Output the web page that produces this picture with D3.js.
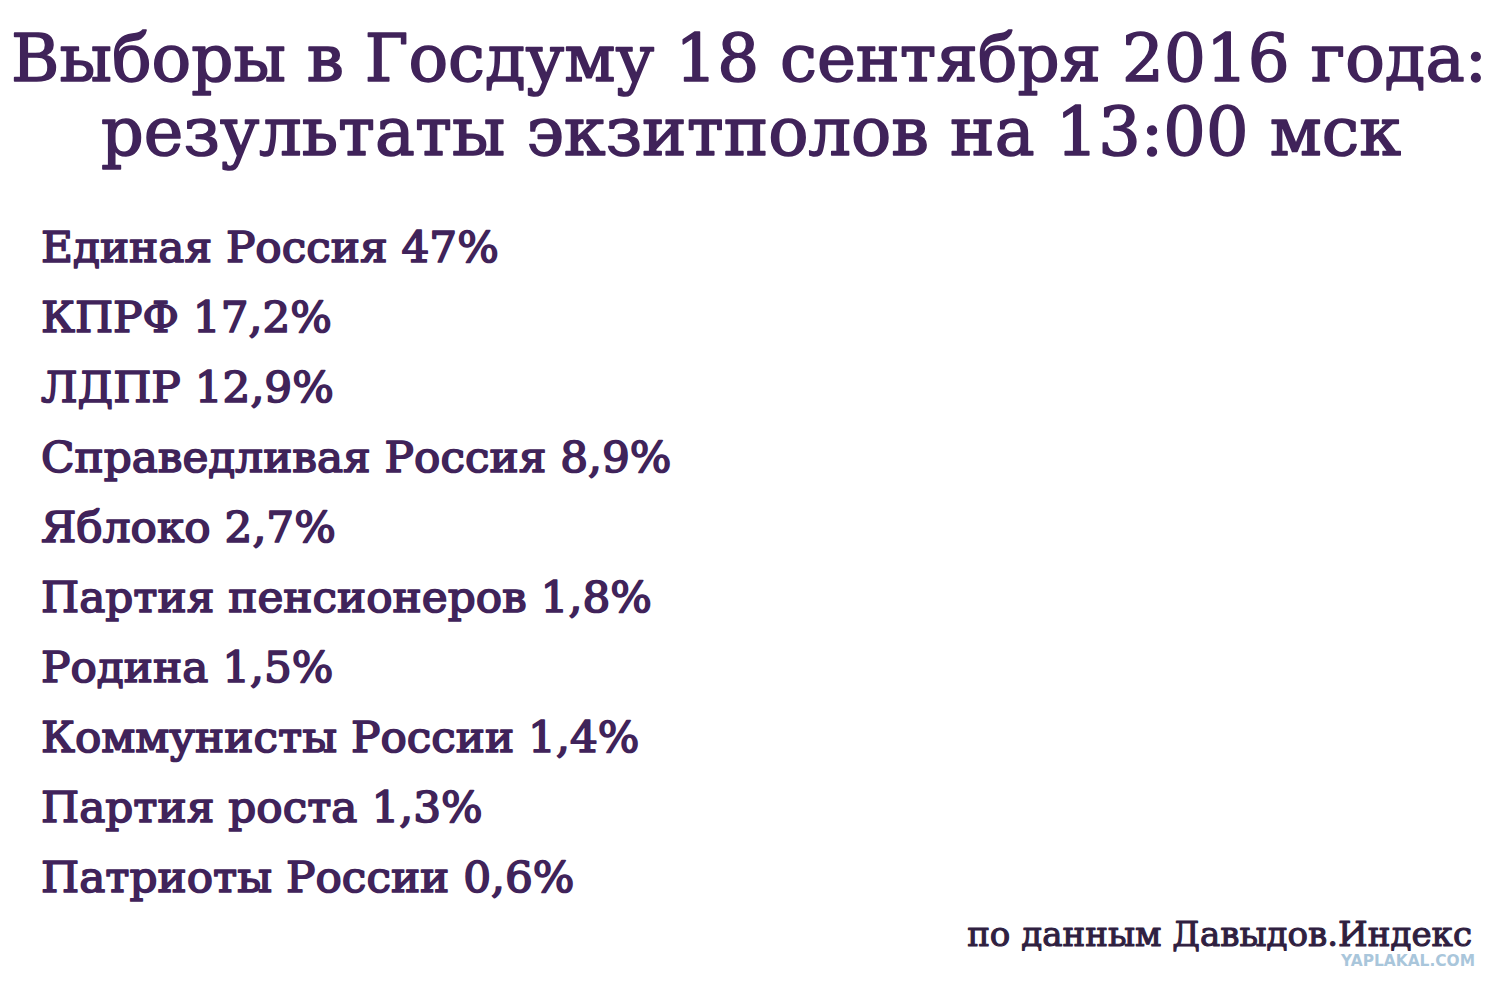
<!DOCTYPE html>
<html><head><meta charset="utf-8">
<script src="https://cdn.jsdelivr.net/npm/d3@7/dist/d3.min.js"></script>
<style>html,body{margin:0;padding:0;background:#fff;overflow:hidden}</style>
</head><body>
<svg id="c" width="1500" height="981"></svg>
<script>
const titleLines = ["Выборы в Госдуму 18 сентября 2016 года:", "результаты экзитполов на 13:00 мск"];
const parties = ["Единая Россия", "КПРФ", "ЛДПР", "Справедливая Россия", "Яблоко", "Партия пенсионеров", "Родина", "Коммунисты России", "Партия роста", "Патриоты России"];
const values = [47, 17.2, 12.9, 8.9, 2.7, 1.8, 1.5, 1.4, 1.3, 0.6];
const source = "по данным Давыдов.Индекс";
const watermark = "YAPLAKAL.COM";

const W = 1500, H = 981;
const svg = d3.select("#c");
svg.append("rect").attr("width", W).attr("height", H).attr("fill", "#fff");
const font = "'DejaVu Serif', serif";
const purple = "#40235a";

function fit(sel, targetW) {
  const w = sel.node().getComputedTextLength();
  const fs = parseFloat(sel.attr("font-size"));
  sel.attr("font-size", fs * targetW / w);
}

// Title
const t1 = svg.append("text").attr("x", W / 2 - 1).attr("y", 81).attr("text-anchor", "middle")
  .attr("font-family", font).attr("font-size", 60).attr("fill", purple)
  .attr("stroke", purple).attr("stroke-width", 1.6).attr("stroke-linejoin", "round").text(titleLines[0]);
fit(t1, 1476);
const t2 = svg.append("text").attr("x", 751).attr("y", 155).attr("text-anchor", "middle")
  .attr("font-family", font).attr("font-size", 60).attr("fill", purple)
  .attr("stroke", purple).attr("stroke-width", 1.6).attr("stroke-linejoin", "round").text(titleLines[1]);
fit(t2, 1300);

// List
const y = d3.scaleBand().domain(parties).range([227, 927]).paddingInner(0);
const fmt = v => String(v).replace(".", ",") + "%";
const items = svg.append("g").selectAll("text").data(parties).join("text")
  .attr("x", 41)
  .attr("y", d => y(d) + 35)
  .attr("font-family", font).attr("font-size", 40)
  .attr("fill", purple).attr("stroke", purple).attr("stroke-width", 1.7).attr("stroke-linejoin", "round")
  .text((d, i) => d + " " + fmt(values[i]));
const first = items.filter((d, i) => i === 0);
const w0 = first.node().getComputedTextLength();
items.attr("font-size", 40 * 458 / w0);

// Source
const s = svg.append("text").attr("x", 1472).attr("y", 946).attr("text-anchor", "end")
  .attr("font-family", font).attr("font-size", 30).attr("fill", "#2f2040")
  .attr("stroke", "#2f2040").attr("stroke-width", 1.1).attr("stroke-linejoin", "round").text(source);
fit(s, 505);

// Watermark
const wm = svg.append("text").attr("x", 1475).attr("y", 966).attr("text-anchor", "end")
  .attr("font-family", "'DejaVu Sans', sans-serif").attr("font-weight", "bold").attr("font-size", 11)
  .attr("fill", "#a9c6db").text(watermark);
fit(wm, 134);
</script>
</body></html>
